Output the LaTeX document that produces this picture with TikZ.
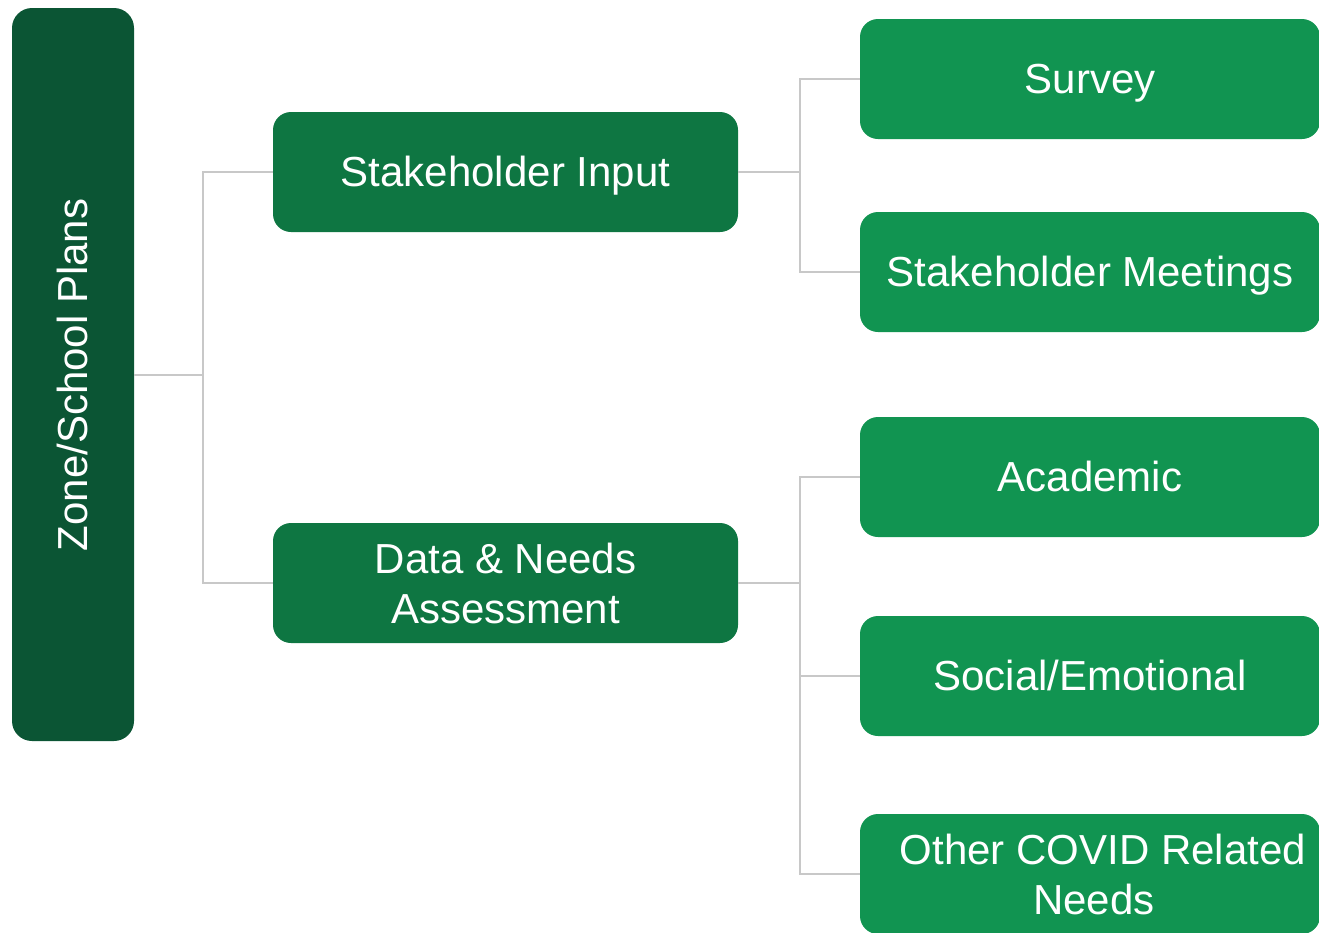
\documentclass[tikz,border=0pt]{standalone}
\usepackage{fontspec}
\setmainfont{Liberation Sans}
\definecolor{rootc}{HTML}{0B5534}
\definecolor{midc}{HTML}{0E7642}
\definecolor{leafc}{HTML}{119451}
\definecolor{linec}{HTML}{C8C8C8}
\begin{document}
\begin{tikzpicture}[x=1pt,y=-1pt,
  box/.style={rectangle, rounded corners=18pt, text=white, align=center, inner sep=0pt,
    font=\fontsize{42}{50}\selectfont},
  oneline/.style={text height=38pt, text depth=8.9pt},
  midbox/.style={box, fill=midc, minimum width=465pt, minimum height=120pt},
  leafbox/.style={box, fill=leafc, minimum width=460pt, minimum height=120pt},
  conn/.style={draw=linec, line width=2pt}]
\useasboundingbox (0,0) rectangle (1319,932);
\node[box, fill=rootc, minimum width=122pt, minimum height=733pt, rounded corners=20pt] (root) at (73,374.5) {};
\node[text=white, rotate=90, inner sep=0pt, oneline, font=\fontsize{42}{50}\selectfont] (rootlabel) at (73,375) {Zone/School Plans};
\node[midbox, oneline] (si) at (505.5,172) {Stakeholder Input};
\node[midbox] (dn) at (505.5,583) {Data \& Needs\\Assessment};
\node[leafbox, oneline] (sv) at (1090,79) {Survey};
\node[leafbox, oneline] (sm) at (1090,272) {Stakeholder Meetings};
\node[leafbox, oneline] (ac) at (1090,477) {Academic};
\node[leafbox, oneline] (se) at (1090,676) {Social/Emotional};
\node[leafbox] (oc) at (1090,874) {};
\node[text=white, align=center, inner sep=0pt, font=\fontsize{42}{50}\selectfont] (oclabel) at (1103,874) {Other COVID Related\\\hspace*{-18pt}Needs};
\coordinate (j1) at (203,374.5);
\coordinate (j2) at (800,172);
\coordinate (j3) at (800,583);
\draw[conn] (root.east) -- (j1) |- (si.west);
\draw[conn] (j1) |- (dn.west);
\draw[conn] (si.east) -- (j2) |- (sv.west);
\draw[conn] (j2) |- (sm.west);
\draw[conn] (dn.east) -- (j3) |- (ac.west);
\draw[conn] (j3) |- (se.west);
\draw[conn] (j3) |- (oc.west);
\end{tikzpicture}
\end{document}
